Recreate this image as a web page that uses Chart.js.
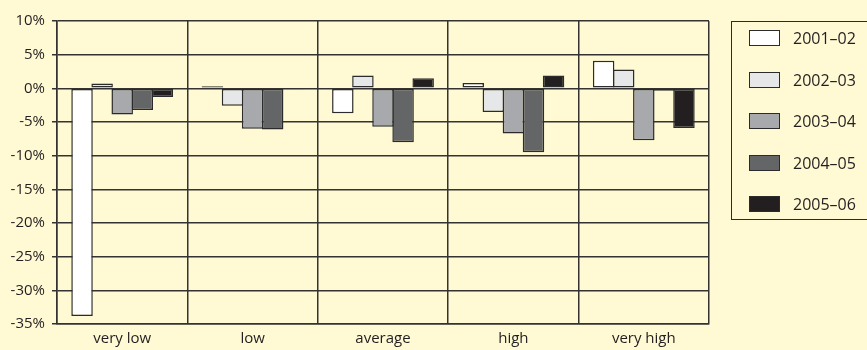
<!DOCTYPE html>
<html>
<head>
<meta charset="utf-8">
<script src="https://cdn.jsdelivr.net/npm/chart.js@4/dist/chart.umd.min.js"></script>
<style>
  body { margin: 0; background: #fffad4; overflow: hidden; }
  #wrap { position: relative; width: 867px; height: 350px; }
  #legend {
    position: absolute; left: 731px; top: 21px; width: 150px; height: 199px;
    border: 1.5px solid #2b2b2b; box-sizing: border-box;
    font-family: "Open Sans", sans-serif; font-size: 16px; color: #231f20;
  }
  #legend .item { position: absolute; left: 17px; height: 20px; display: flex; align-items: center; }
  #legend .swatch { width: 31px; height: 16px; border: 1.5px solid #2b2b2b; box-sizing: border-box; margin-right: 13px; }
</style>
</head>
<body>
<div id="wrap">
  <canvas id="chart" width="867" height="350"></canvas>
  <div id="legend"></div>
</div>
<script>
const categories = ['very low', 'low', 'average', 'high', 'very high'];
const seasons = ['2001–02', '2002–03', '2003–04', '2004–05', '2005–06'];
const values2001 = [-33.8, 0.3, -3.7, 0.8, 4.1];
const values2002 = [0.7, -2.6, 1.9, -3.5, 2.8];
const values2003 = [-3.9, -6.0, -5.7, -6.7, -7.7];
const values2004 = [-3.2, -6.1, -8.0, -9.5, -0.35];
const values2005 = [-1.3, -0.15, 1.5, 1.9, -5.9];
const yTicks = [10, 5, 0, -5, -10, -15, -20, -25, -30, -35];
const fills = ['#ffffff', '#e6e7e8', '#a7a9ac', '#646567', '#231f20'];

const lineColor = '#333333';
const series = [values2001, values2002, values2003, values2004, values2005];

// bars in a group share their borders, so make them a touch wider than the slot
const datasets = series.map((data, i) => ({
  label: seasons[i],
  data: data,
  backgroundColor: fills[i],
  borderColor: '#2b2b2b',
  borderWidth: 1.5,
  borderSkipped: false,
  inflateAmount: 0,
  categoryPercentage: 0.77,
  barPercentage: 1.07
}));

const font = { family: '"Open Sans", sans-serif', size: 15 };

new Chart(document.getElementById('chart'), {
  type: 'bar',
  data: { labels: categories, datasets: datasets },
  options: {
    responsive: false,
    animation: false,
    layout: { padding: { top: 21, right: 158, left: 0, bottom: 0 } },
    plugins: { legend: { display: false }, tooltip: { enabled: false } },
    scales: {
      x: {
        grid: { offset: true, color: lineColor, lineWidth: 1.5, drawTicks: false },
        border: { color: lineColor, width: 1.5 },
        ticks: { color: '#231f20', font: font, padding: 6 },
        afterFit: s => { s.height = 26; }
      },
      y: {
        min: -35, max: 10,
        grid: { color: lineColor, lineWidth: 1.5, tickLength: 5 },
        border: { color: lineColor, width: 1.5 },
        ticks: { color: '#231f20', font: font, padding: 7, callback: v => v + '%' },
        afterBuildTicks: s => { s.ticks = yTicks.map(v => ({ value: v })); },
        afterFit: s => { s.width = 57; }
      }
    }
  }
});

// legend box on the right
const legend = document.getElementById('legend');
seasons.forEach((name, i) => {
  legend.innerHTML += `
    <div class="item" style="top:${6 + i * 41.5}px">
      <div class="swatch" style="background:${fills[i]}"></div>${name}
    </div>`;
});
</script>
</body>
</html>
